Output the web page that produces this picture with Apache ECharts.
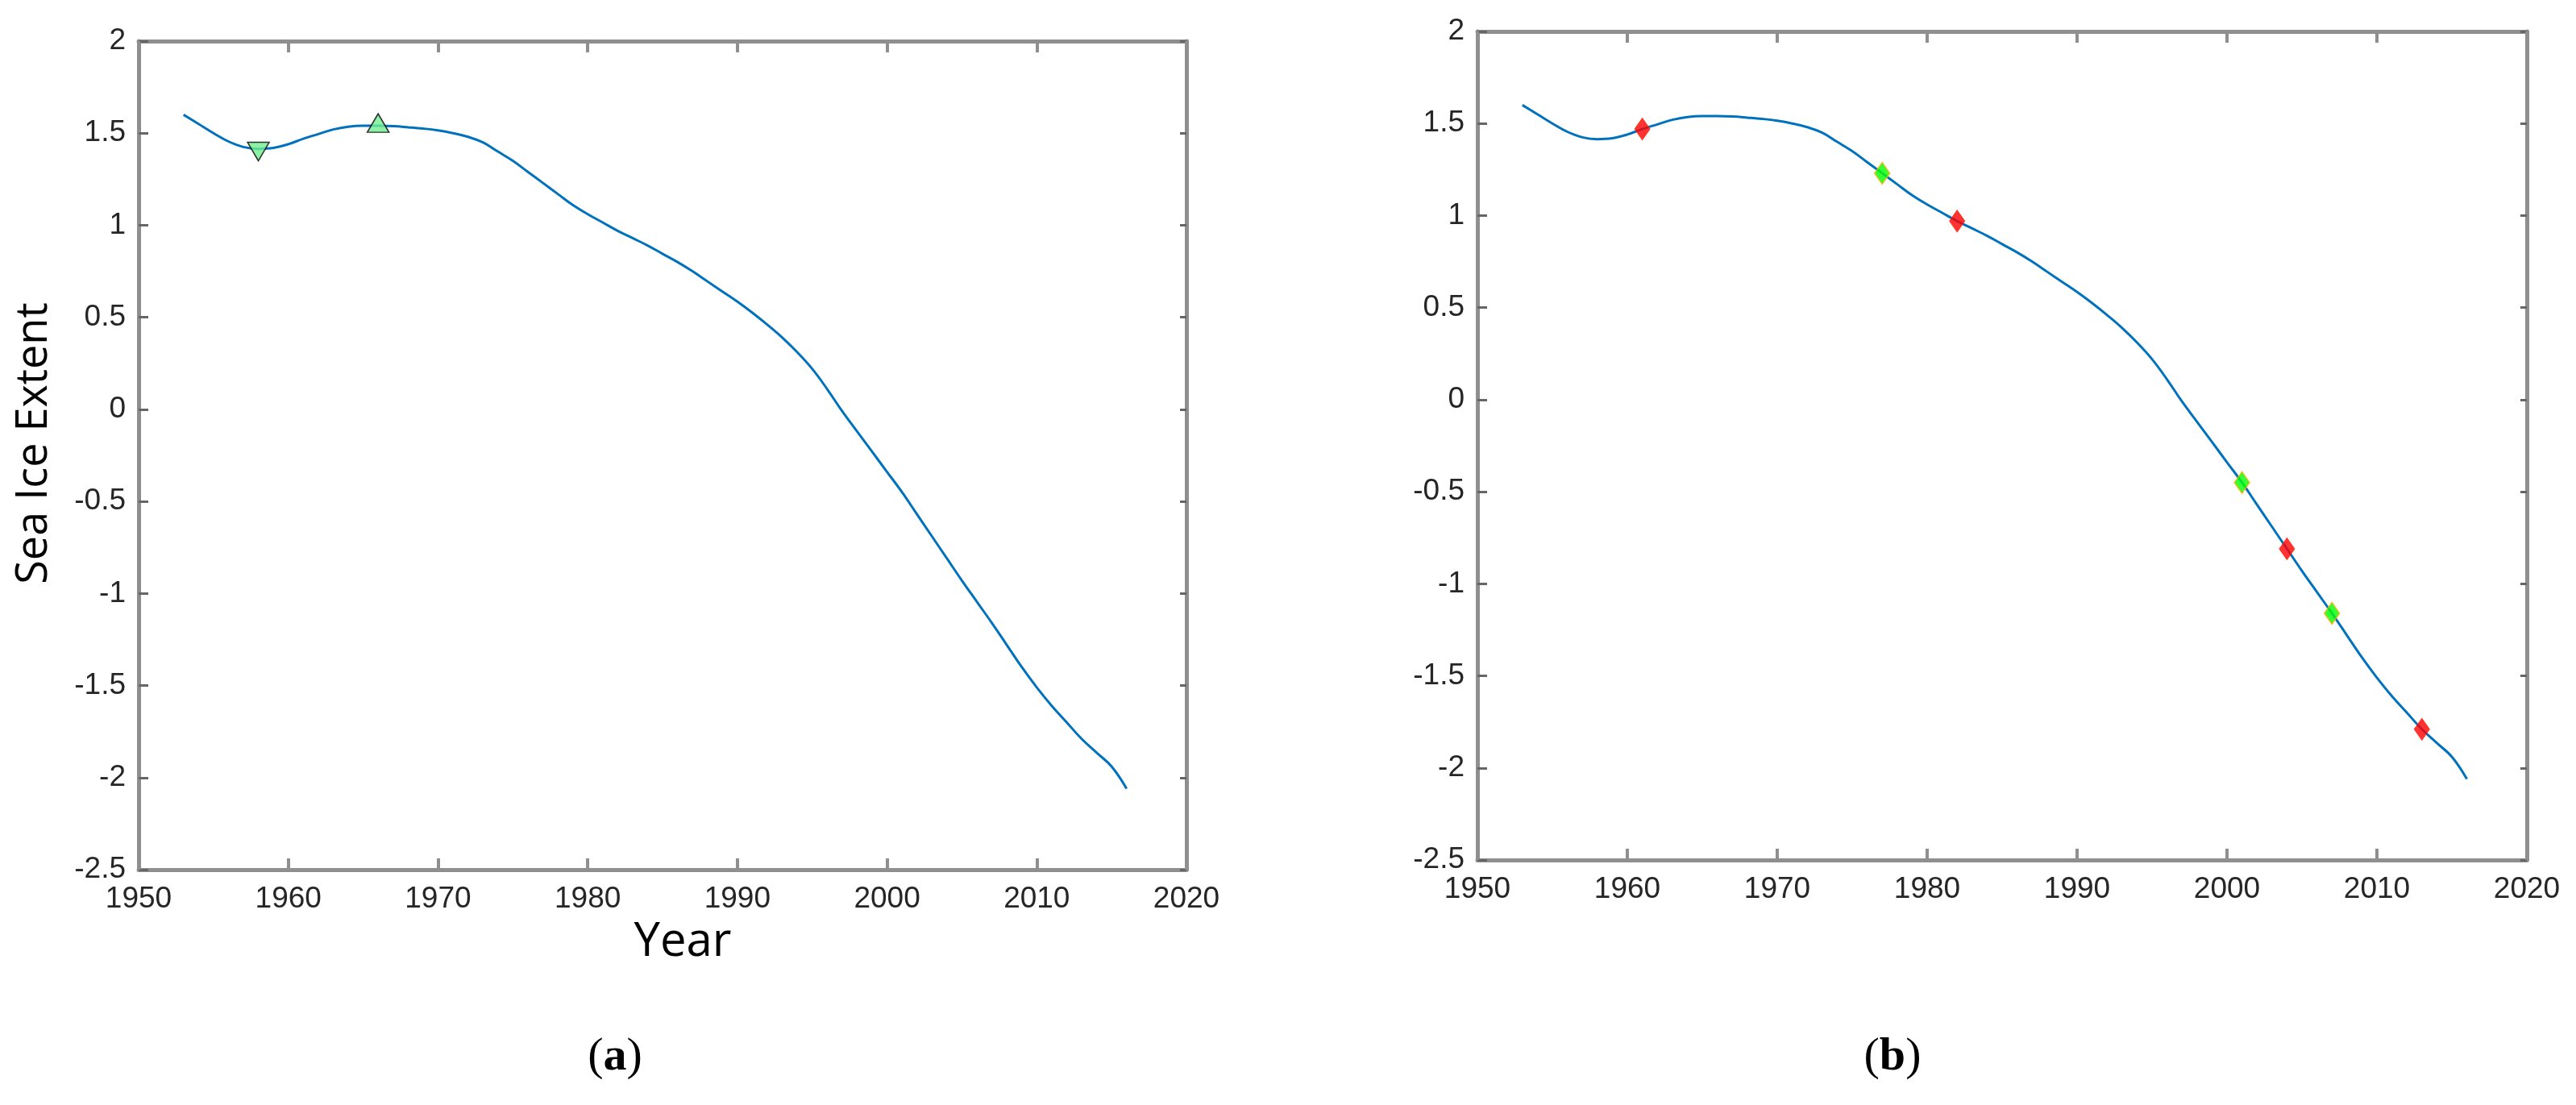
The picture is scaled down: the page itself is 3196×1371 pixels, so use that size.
<!DOCTYPE html>
<html>
<head>
<meta charset="utf-8">
<script src="https://cdn.jsdelivr.net/npm/echarts@6/dist/echarts.min.js"></script>
<style>
html,body{margin:0;padding:0;background:#fff;}
#chart{width:3196px;height:1371px;}
</style>
</head>
<body>
<div id="chart"></div>
<script>
// ---- data ----
const years = [1953,1954,1955,1956,1957,1958,1959,1960,1961,1962,1963,1964,1965,1966,1967,1968,1969,1970,1971,1972,1973,1974,1975,1976,1977,1978,1979,1980,1981,1982,1983,1984,1985,1986,1987,1988,1989,1990,1991,1992,1993,1994,1995,1996,1997,1998,1999,2000,2001,2002,2003,2004,2005,2006,2007,2008,2009,2010,2011,2012,2013,2014,2015,2016];
const seaIce = [1.60,1.55,1.50,1.455,1.425,1.415,1.42,1.44,1.47,1.495,1.52,1.535,1.54,1.54,1.538,1.532,1.525,1.515,1.50,1.48,1.45,1.40,1.35,1.29,1.23,1.17,1.11,1.06,1.015,0.97,0.93,0.89,0.845,0.80,0.75,0.695,0.64,0.585,0.525,0.46,0.39,0.31,0.22,0.11,-0.01,-0.12,-0.23,-0.34,-0.45,-0.57,-0.69,-0.81,-0.93,-1.045,-1.16,-1.28,-1.40,-1.51,-1.61,-1.70,-1.79,-1.865,-1.94,-2.06];

// panel (a) extrema markers
const minYears = [1958];
const minValues = [1.40];
const maxYears = [1966];
const maxValues = [1.555];

// panel (b) markers
const redYears = [1961, 1982, 2004, 2013];
const redValues = [1.47, 0.97, -0.81, -1.79];
const greenYears = [1977, 2001, 2007];
const greenValues = [1.23, -0.45, -1.16];

// axis ticks
const xTicks = {min: 1950, max: 2020, interval: 10};
const yTicks = {min: -2.5, max: 2, interval: 0.5};

const zip = (a, b) => a.map((v, i) => [v, b[i]]);

const AX = '#8f8f8f';
const LBL = '#262626';
const FONT = '"Liberation Sans", Arial, sans-serif';

function xAxes(gi) {
  const base = {
    type: 'value', gridIndex: gi,
    min: xTicks.min, max: xTicks.max, interval: xTicks.interval,
    splitLine: {show: false},
    axisLine: {show: true, onZero: false, lineStyle: {color: AX, width: 5}},
    axisTick: {show: true, inside: true, length: 14, lineStyle: {color: AX, width: 4}}
  };
  return [
    Object.assign({}, base, {position: 'bottom',
      axisLabel: {show: true, fontSize: 37, color: LBL, fontFamily: FONT, margin: 18, formatter: v => String(v)}}),
    Object.assign({}, base, {position: 'top', axisLabel: {show: false}})
  ];
}
function yAxes(gi) {
  const base = {
    type: 'value', gridIndex: gi,
    min: yTicks.min, max: yTicks.max, interval: yTicks.interval,
    splitLine: {show: false},
    axisLine: {show: true, onZero: false, lineStyle: {color: AX, width: 5}},
    axisTick: {show: true, inside: true, length: 12, lineStyle: {color: '#666', width: 3}}
  };
  return [
    Object.assign({}, base, {position: 'left',
      axisLabel: {show: true, fontSize: 37, color: LBL, fontFamily: FONT, margin: 16, formatter: v => String(v)}}),
    Object.assign({}, base, {position: 'right', axisLabel: {show: false},
      axisTick: {show: true, inside: true, length: 8, lineStyle: {color: '#666', width: 3}}})
  ];
}

const lineStyle = {color: '#0072BD', width: 3};

const option = {
  animation: false,
  backgroundColor: '#ffffff',
  grid: [
    {left: 172, top: 51, width: 1300, height: 1028},
    {left: 1833, top: 39, width: 1302, height: 1028}
  ],
  xAxis: [...xAxes(0), ...xAxes(1)],
  yAxis: [...yAxes(0), ...yAxes(1)],
  series: [
    {type: 'line', xAxisIndex: 0, yAxisIndex: 0, data: zip(years, seaIce),
     smooth: 0.4, showSymbol: false, symbol: 'none', lineStyle: lineStyle, z: 2},
    {type: 'scatter', xAxisIndex: 0, yAxisIndex: 0, data: zip(minYears, minValues),
     symbol: 'triangle', symbolRotate: 180, symbolSize: [27, 23],
     itemStyle: {color: '#70ee90', borderColor: '#000', borderWidth: 1.5}, z: 5},
    {type: 'scatter', xAxisIndex: 0, yAxisIndex: 0, data: zip(maxYears, maxValues),
     symbol: 'triangle', symbolSize: [27, 23],
     itemStyle: {color: '#70ee90', borderColor: '#000', borderWidth: 1.5}, z: 5},
    {type: 'line', xAxisIndex: 2, yAxisIndex: 2, data: zip(years, seaIce),
     smooth: 0.4, showSymbol: false, symbol: 'none', lineStyle: lineStyle, z: 2},
    {type: 'scatter', xAxisIndex: 2, yAxisIndex: 2, data: zip(redYears, redValues),
     symbol: 'diamond', symbolSize: [19, 27],
     itemStyle: {color: '#ff0000', borderColor: '#ff2000', borderWidth: 1}, z: 5},
    {type: 'scatter', xAxisIndex: 2, yAxisIndex: 2, data: zip(greenYears, greenValues),
     symbol: 'diamond', symbolSize: [19, 27],
     itemStyle: {color: '#00ff00', borderColor: '#ffb000', borderWidth: 1.5}, z: 5}
  ],
  graphic: [
    {type: 'text', x: 847, y: 1140,
     style: {text: 'Year', font: '58px "Open Sans", sans-serif', fill: '#000', align: 'center', verticalAlign: 'top'}},
    {type: 'text', x: 16, y: 550, rotation: Math.PI / 2,
     style: {text: 'Sea Ice Extent', font: '54px "Open Sans", sans-serif', fill: '#000', align: 'center', verticalAlign: 'top'}},
    {type: 'text', x: 763, y: 1312,
     style: {text: '{r|(}{b|a}{r|)}', align: 'center', verticalAlign: 'middle',
       rich: {r: {font: '58px "Liberation Serif", serif', fill: '#000'},
              b: {font: 'bold 58px "Liberation Serif", serif', fill: '#000'}}}},
    {type: 'text', x: 2348, y: 1312,
     style: {text: '{r|(}{b|b}{r|)}', align: 'center', verticalAlign: 'middle',
       rich: {r: {font: '58px "Liberation Serif", serif', fill: '#000'},
              b: {font: 'bold 58px "Liberation Serif", serif', fill: '#000'}}}}
  ]
};

const chart = echarts.init(document.getElementById('chart'), null, {renderer: 'canvas'});
chart.setOption(option);
</script>
</body>
</html>
